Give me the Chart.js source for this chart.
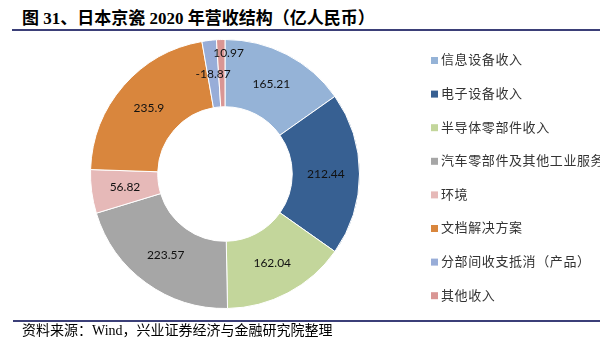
<!DOCTYPE html>
<html>
<head>
<meta charset="utf-8">
<script src="https://cdn.jsdelivr.net/npm/chart.js@4.4.1/dist/chart.umd.min.js"></script>
<style>
  html, body { margin: 0; padding: 0; background: #fff; }
  body { width: 600px; height: 355px; position: relative; overflow: hidden; }
  #title { position: absolute; left: 22px; top: 8px; font-family: "Liberation Serif", "Noto Sans CJK SC", serif; font-weight: 700; font-size: 17px; line-height: 22px; letter-spacing: 0px; color: #000; white-space: nowrap; }
  #topline { position: absolute; left: 12px; right: 0; top: 29px; height: 2px; background: #3b3f78; }
  #botline { position: absolute; left: 13px; right: 0; top: 320px; height: 2px; background: #3b3f78; }
  #footer { position: absolute; left: 22px; top: 322px; font-family: "Liberation Serif", "Noto Sans CJK SC", serif; font-size: 14px; line-height: 18px; color: #000; white-space: nowrap; }
  #wrap { position: absolute; left: 0; top: 0; width: 600px; height: 355px; }
</style>
</head>
<body>
<div id="title">图 31、日本京瓷 2020 年营收结构（亿人民币）</div>
<div id="topline"></div>
<div id="wrap"><canvas id="c" width="600" height="355"></canvas></div>
<div id="botline"></div>
<div id="footer">资料来源：Wind，兴业证券经济与金融研究院整理</div>
<script>
const categories = ["信息设备收入", "电子设备收入", "半导体零部件收入", "汽车零部件及其他工业服务", "环境", "文档解决方案", "分部间收支抵消（产品）", "其他收入"];
const revenue = [165.21, 212.44, 162.04, 223.57, 56.82, 235.9, -18.87, 10.97];
const sliceColors = ["#95B3D7", "#376092", "#C3D69B", "#A6A6A6", "#E6B9B8", "#D9863D", "#98ADD8", "#D99694"];

const valueLabels = {
  id: 'valueLabels',
  afterDatasetsDraw(chart) {
    const ctx = chart.ctx;
    const meta = chart.getDatasetMeta(0);
    const total = revenue.reduce((s, v) => s + Math.abs(v), 0);
    ctx.save();
    ctx.font = '12px Lato, "Liberation Sans", sans-serif';
    ctx.fillStyle = '#111';
    ctx.textBaseline = 'middle';
    meta.data.forEach((arc, i) => {
      const txt = String(revenue[i]);
      const share = Math.abs(revenue[i]) / total;
      if (share < 0.015) {
        const mid = (arc.startAngle + arc.endAngle) / 2;
        const r = arc.outerRadius - 14;
        const x = arc.x + Math.cos(mid) * r;
        const y = arc.y + Math.sin(mid) * r;
        ctx.textAlign = 'left';
        ctx.fillText(txt, x - 8, y);
      } else {
        const p = arc.tooltipPosition();
        ctx.textAlign = 'center';
        ctx.fillText(txt, p.x, p.y);
      }
    });
    ctx.restore();
  }
};

const sideLegend = {
  id: 'sideLegend',
  afterDraw(chart) {
    const ctx = chart.ctx;
    const ds = chart.data.datasets[0];
    ctx.save();
    ctx.font = '13px "Noto Sans CJK SC", sans-serif';
    try { ctx.letterSpacing = '0.6px'; } catch (e) {}
    ctx.textBaseline = 'middle';
    ctx.textAlign = 'left';
    chart.data.labels.forEach((lab, i) => {
      const y = 60.5 + i * 33.6;
      ctx.fillStyle = ds.backgroundColor[i];
      ctx.fillRect(431, y - 3.5, 7, 7);
      ctx.fillStyle = '#333';
      ctx.fillText(lab, 441, y - 1);
    });
    ctx.restore();
  }
};

new Chart(document.getElementById('c'), {
  type: 'doughnut',
  data: {
    labels: categories,
    datasets: [{
      data: revenue.map(v => Math.abs(v)),
      backgroundColor: sliceColors,
      borderColor: '#ffffff',
      borderWidth: 1
    }]
  },
  options: {
    responsive: false,
    animation: false,
    cutout: '50%',
    rotation: 0,
    layout: { padding: { left: 90, right: 240, top: 39, bottom: 46 } },
    plugins: {
      legend: { display: false },
      tooltip: { enabled: false },
      title: { display: false }
    }
  },
  plugins: [valueLabels, sideLegend]
});
</script>
</body>
</html>
